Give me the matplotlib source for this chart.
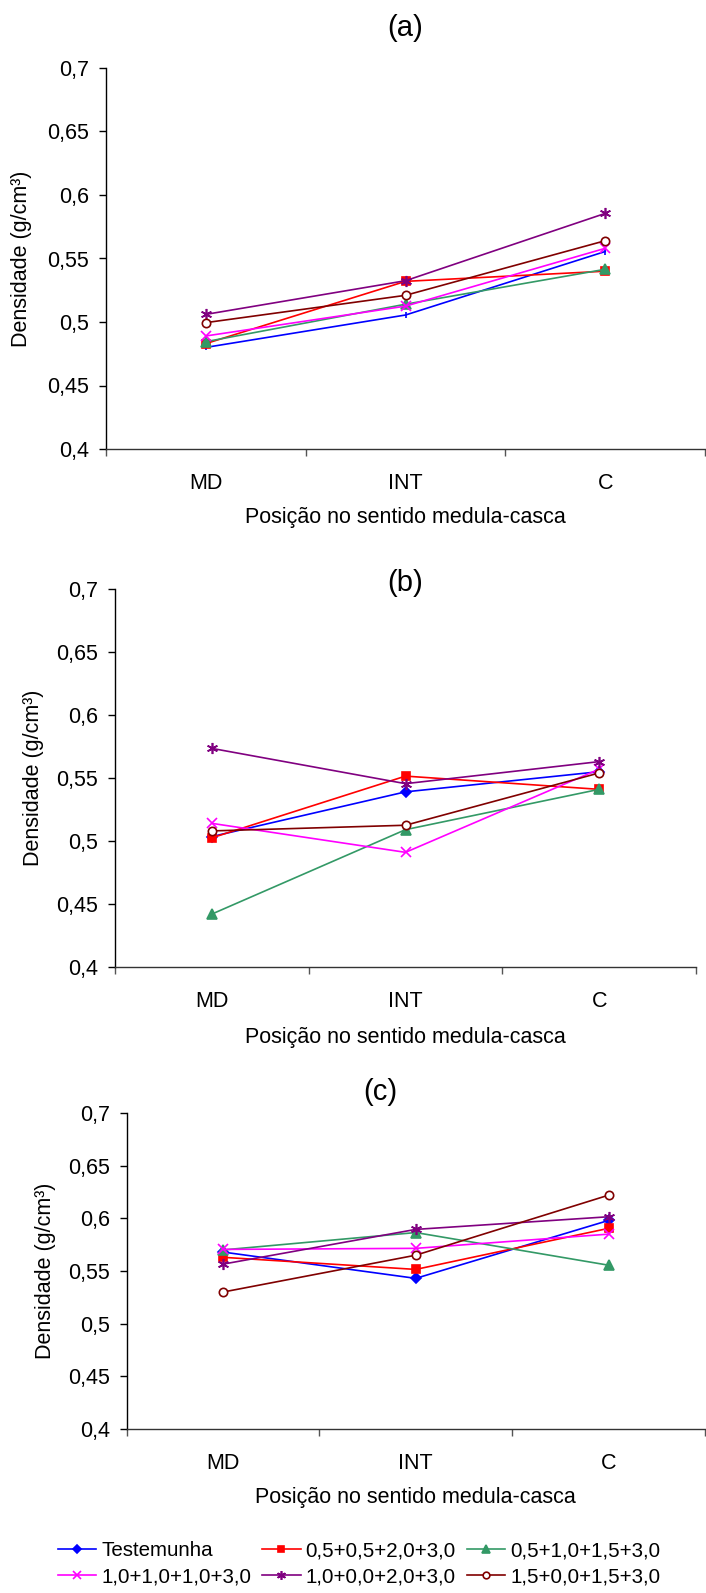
import matplotlib
matplotlib.use("Agg")
import matplotlib.pyplot as plt

plt.rcParams['font.family'] = ['Liberation Sans', 'DejaVu Sans']

W, H = 706, 1593

positions = ['MD', 'INT', 'C']
series_names = ['Testemunha', '0,5+0,5+2,0+3,0', '0,5+1,0+1,5+3,0',
                '1,0+1,0+1,0+3,0', '1,0+0,0+2,0+3,0', '1,5+0,0+1,5+3,0']

# densidade (g/cm3) por posicao MD, INT, C
dens_a = [
    [0.480, 0.5055, 0.5555],
    [0.483, 0.532, 0.540],
    [0.4845, 0.514, 0.5415],
    [0.489, 0.5125, 0.558],
    [0.506, 0.5325, 0.5855],
    [0.4995, 0.521, 0.564],
]
dens_b = [
    [0.5035, 0.539, 0.555],
    [0.5025, 0.5515, 0.541],
    [0.442, 0.509, 0.541],
    [0.514, 0.491, 0.557],
    [0.5735, 0.5455, 0.563],
    [0.508, 0.5125, 0.554],
]
dens_c = [
    [0.568, 0.543, 0.598],
    [0.563, 0.5515, 0.5905],
    [0.570, 0.5865, 0.5555],
    [0.5705, 0.5715, 0.585],
    [0.5565, 0.5895, 0.6015],
    [0.530, 0.565, 0.622],
]

colors = ['#0000FF', '#FF0000', '#339966', '#FF00FF', '#800080', '#800000']
markers = ['D', 's', '^', 'x', (6, 2, 0), 'o']
msizes = [5, 6, 7, 7, 8, 6]

# axes boxes in pixels: left, right, top, bottom
boxes = [(106, 705, 68, 449), (115, 696, 589, 967), (126.5, 705, 1113, 1429)]
titles = ['(a)', '(b)', '(c)']
title_xy = [(405, 28), (405, 583), (380, 1092)]
ylabel_x = [21, 34, 45]
xlabel_y = [517, 1038, 1497]

fig = plt.figure(figsize=(W / 100, H / 100), dpi=100)


def draw_panel(k, data):
    l, r, t, b = boxes[k]
    ax = fig.add_axes([l / W, 1 - b / H, (r - l) / W, (b - t) / H])
    handles = []
    for i, vals in enumerate(data):
        m = markers[i]
        if k == 0 and i == 0:
            m = '|'
        mfc = 'white' if i == 5 else colors[i]
        h, = ax.plot(range(len(positions)), vals, color=colors[i], lw=1.2,
                     marker=m, ms=msizes[i], mfc=mfc, mec=colors[i], mew=1.2,
                     label=series_names[i])
        handles.append(h)
    ax.set_xlim(-0.5, 2.5)
    ax.set_ylim(0.4, 0.7)
    ax.set_yticks([0.4, 0.45, 0.5, 0.55, 0.6, 0.65, 0.7])
    ax.set_yticklabels(['0,4', '0,45', '0,5', '0,55', '0,6', '0,65', '0,7'])
    ax.set_xticks([-0.5, 0.5, 1.5, 2.5])
    ax.set_xticklabels([])
    ax.set_xticks([0, 1, 2], minor=True)
    ax.set_xticklabels(positions, minor=True)
    ax.tick_params(axis='x', which='minor', length=0, pad=17, labelsize=15.5)
    ax.tick_params(axis='x', which='major', length=5, width=1, color='#555555')
    ax.tick_params(axis='y', length=5, width=1, pad=7, labelsize=15.5)
    for s in ['top', 'right']:
        ax.spines[s].set_visible(False)
    ax.spines['left'].set_linewidth(1)
    ax.spines['bottom'].set_linewidth(1)
    ax.spines['bottom'].set_color('#333333')

    ax.set_ylabel('Densidade (g/cm³)', fontsize=15.5)
    ax.yaxis.set_label_coords((ylabel_x[k] - l) / (r - l), 0.5)
    ax.set_xlabel('Posição no sentido medula-casca', fontsize=15.5)
    ax.xaxis.set_label_coords(0.5, (b - xlabel_y[k]) / (b - t))
    ax.xaxis.label.set_va('center')
    ax.yaxis.label.set_va('center')

    tx, ty = title_xy[k]
    fig.text(tx / W, 1 - ty / H, titles[k], fontsize=21, ha='center', va='center')
    return handles


draw_panel(0, dens_a)
draw_panel(1, dens_b)
hs = draw_panel(2, dens_c)

# fill column by column so rows read like the original
order = [0, 3, 1, 4, 2, 5]
fig.legend([hs[i] for i in order], [series_names[i] for i in order],
           ncol=3, loc='center left', bbox_to_anchor=(58 / W, 1 - 1564 / H),
           frameon=False, fontsize=14.8, handlelength=1.85, handletextpad=0.25,
           columnspacing=0.55, labelspacing=0.35, borderpad=0, borderaxespad=0,
           markerscale=0.8)

fig.savefig('out.png', dpi=100)
